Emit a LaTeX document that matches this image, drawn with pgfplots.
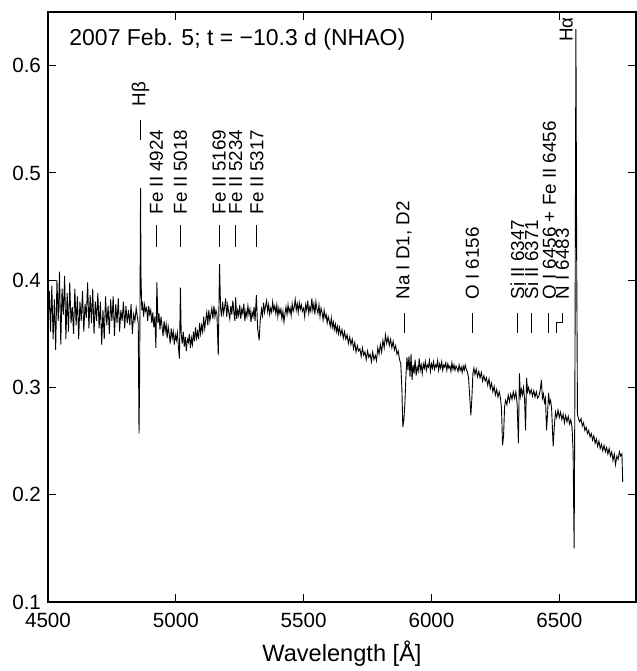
\documentclass[border=0pt]{standalone}
\usepackage{pgfplots}
\pgfplotsset{compat=1.18}
\usepackage{fontspec}
\setmainfont{Liberation Sans}
\newcommand{\lab}{\fontsize{9.4}{11}\selectfont}
\begin{document}
\begin{tikzpicture}
\useasboundingbox (-24pt,-34.5pt) rectangle (294.5pt,301pt);
\begin{axis}[
  at={(0,0)}, anchor=south west,
  scale only axis, width=294pt, height=295pt,
  xmin=4500, xmax=6800, ymin=0.1, ymax=0.65,
  xtick={4500,5000,5500,6000,6500},
  ytick={0.1,0.2,0.3,0.4,0.5,0.6},
  minor tick num=0,
  tick align=inside,
  major tick length=4pt,
  tick style={black, line width=0.5pt},
  axis line style={line width=0.6pt},
  ticklabel style={font=\fontsize{10.3}{12}\selectfont},
  /pgf/number format/assume math mode=true,
  xticklabel style={/pgf/number format/1000 sep={}, yshift=-2pt},
  yticklabel style={/pgf/number format/.cd, fixed, fixed zerofill, precision=1},
  xlabel={Wavelength [Å]},
  xlabel style={font=\fontsize{11.8}{13}\selectfont},
  clip=false,
]
\addplot[black, line width=0.45pt] table[x=w, y=f] {
w f
4500 0.360
4505 0.390
4510 0.352
4515 0.395
4520 0.345
4525 0.382
4530 0.335
4535 0.400
4540 0.362
4545 0.408
4550 0.340
4555 0.392
4560 0.368
4565 0.404
4570 0.345
4575 0.388
4580 0.352
4585 0.398
4590 0.360
4595 0.375
4600 0.350
4605 0.392
4610 0.358
4615 0.385
4620 0.345
4625 0.380
4630 0.362
4635 0.390
4640 0.352
4645 0.378
4650 0.365
4655 0.398
4660 0.355
4665 0.386
4670 0.360
4675 0.392
4680 0.350
4685 0.380
4690 0.362
4695 0.388
4700 0.355
4705 0.380
4710 0.340
4715 0.372
4720 0.345
4725 0.385
4730 0.358
4735 0.376
4740 0.350
4745 0.382
4750 0.362
4755 0.385
4760 0.348
4765 0.378
4770 0.360
4775 0.383
4780 0.352
4785 0.372
4790 0.362
4795 0.380
4800 0.355
4805 0.376
4810 0.360
4815 0.372
4820 0.358
4825 0.378
4830 0.350
4835 0.368
4840 0.362
4845 0.374
4850 0.365
4853 0.360
4856 0.257
4858 0.300
4860 0.380
4862 0.486
4864 0.400
4867 0.372
4870 0.380
4874 0.366
4878 0.377
4882 0.371
4886 0.374
4890 0.362
4894 0.376
4898 0.368
4902 0.372
4906 0.360
4910 0.370
4914 0.356
4918 0.366
4922 0.337
4926 0.398
4930 0.360
4934 0.369
4938 0.354
4942 0.366
4946 0.357
4950 0.348
4954 0.362
4958 0.352
4962 0.359
4966 0.346
4970 0.357
4974 0.350
4978 0.341
4982 0.355
4986 0.346
4990 0.352
4994 0.340
4998 0.349
5002 0.344
5006 0.351
5010 0.338
5014 0.327
5018 0.393
5021 0.350
5025 0.341
5029 0.352
5033 0.338
5037 0.347
5041 0.334
5045 0.345
5049 0.342
5053 0.350
5057 0.337
5061 0.346
5065 0.340
5069 0.352
5073 0.343
5077 0.356
5081 0.346
5085 0.352
5089 0.345
5093 0.360
5097 0.350
5101 0.358
5105 0.352
5109 0.366
5113 0.355
5117 0.363
5121 0.370
5125 0.358
5129 0.372
5133 0.362
5137 0.368
5141 0.374
5145 0.364
5149 0.376
5153 0.366
5157 0.372
5161 0.368
5166 0.330
5171 0.415
5175 0.374
5179 0.366
5183 0.380
5187 0.369
5191 0.375
5195 0.383
5199 0.366
5203 0.377
5207 0.370
5211 0.364
5215 0.376
5219 0.368
5223 0.381
5227 0.370
5231 0.362
5234 0.384
5238 0.364
5242 0.372
5246 0.367
5250 0.377
5254 0.364
5258 0.373
5262 0.369
5266 0.378
5270 0.362
5274 0.371
5278 0.366
5282 0.376
5286 0.368
5290 0.373
5294 0.361
5298 0.370
5302 0.366
5306 0.375
5310 0.362
5315 0.386
5320 0.355
5326 0.344
5330 0.362
5335 0.373
5339 0.367
5343 0.379
5347 0.370
5351 0.376
5355 0.381
5359 0.371
5363 0.377
5367 0.368
5371 0.374
5375 0.370
5379 0.380
5383 0.372
5387 0.376
5391 0.369
5395 0.377
5399 0.366
5403 0.374
5407 0.369
5411 0.373
5415 0.364
5419 0.371
5423 0.361
5427 0.369
5431 0.375
5435 0.368
5439 0.377
5443 0.370
5447 0.374
5451 0.367
5455 0.378
5459 0.371
5463 0.375
5467 0.382
5471 0.372
5475 0.378
5479 0.370
5483 0.379
5487 0.373
5491 0.377
5495 0.371
5500 0.374
5504 0.366
5508 0.377
5512 0.372
5516 0.381
5520 0.369
5524 0.375
5528 0.371
5532 0.383
5536 0.372
5540 0.378
5544 0.368
5548 0.380
5552 0.373
5556 0.369
5560 0.377
5564 0.366
5568 0.374
5572 0.370
5576 0.363
5580 0.372
5584 0.365
5588 0.368
5592 0.360
5596 0.366
5600 0.362
5604 0.357
5608 0.365
5612 0.356
5616 0.361
5620 0.354
5624 0.359
5628 0.352
5632 0.357
5636 0.350
5640 0.356
5645 0.349
5650 0.354
5655 0.346
5660 0.352
5665 0.345
5670 0.349
5675 0.341
5680 0.347
5685 0.340
5690 0.345
5695 0.336
5700 0.342
5705 0.333
5710 0.339
5715 0.334
5720 0.336
5725 0.329
5730 0.337
5735 0.330
5740 0.333
5745 0.326
5750 0.334
5755 0.328
5760 0.331
5765 0.324
5770 0.333
5775 0.326
5780 0.330
5785 0.325
5790 0.337
5795 0.331
5800 0.340
5805 0.333
5810 0.344
5815 0.337
5820 0.349
5825 0.341
5830 0.347
5835 0.339
5840 0.345
5845 0.337
5850 0.343
5855 0.335
5860 0.339
5865 0.331
5870 0.334
5875 0.326
5880 0.322
5884 0.300
5888 0.263
5892 0.270
5896 0.285
5900 0.310
5904 0.328
5908 0.316
5912 0.329
5916 0.310
5920 0.331
5924 0.307
5928 0.321
5932 0.313
5936 0.326
5940 0.311
5944 0.319
5948 0.315
5952 0.327
5956 0.316
5960 0.321
5964 0.313
5968 0.322
5972 0.318
5976 0.324
5980 0.316
5984 0.321
5988 0.319
5992 0.325
5996 0.315
6000 0.322
6004 0.318
6008 0.324
6012 0.317
6016 0.321
6020 0.319
6024 0.325
6028 0.316
6032 0.322
6036 0.318
6040 0.324
6044 0.316
6048 0.321
6052 0.319
6056 0.323
6060 0.316
6064 0.322
6068 0.318
6072 0.320
6076 0.315
6080 0.323
6084 0.317
6088 0.321
6092 0.316
6096 0.320
6100 0.318
6104 0.315
6108 0.321
6112 0.316
6116 0.319
6120 0.314
6124 0.320
6128 0.316
6132 0.321
6136 0.317
6140 0.315
6145 0.309
6150 0.290
6154 0.274
6158 0.290
6162 0.313
6166 0.318
6170 0.312
6175 0.317
6180 0.310
6185 0.315
6190 0.309
6195 0.314
6200 0.306
6205 0.311
6210 0.306
6215 0.309
6220 0.302
6225 0.308
6230 0.299
6235 0.304
6240 0.296
6245 0.301
6250 0.293
6255 0.298
6260 0.291
6265 0.296
6270 0.290
6274 0.280
6278 0.246
6282 0.255
6286 0.282
6290 0.288
6295 0.284
6300 0.293
6305 0.287
6310 0.294
6315 0.289
6320 0.296
6325 0.290
6330 0.296
6335 0.285
6340 0.248
6344 0.313
6348 0.292
6352 0.298
6356 0.293
6360 0.300
6364 0.290
6368 0.260
6372 0.309
6376 0.296
6380 0.300
6385 0.294
6390 0.298
6395 0.292
6400 0.297
6405 0.291
6410 0.296
6415 0.290
6420 0.292
6425 0.297
6430 0.307
6434 0.290
6438 0.294
6442 0.286
6446 0.290
6450 0.260
6454 0.275
6458 0.295
6462 0.285
6466 0.288
6470 0.280
6476 0.245
6480 0.262
6485 0.277
6490 0.272
6495 0.279
6500 0.272
6505 0.277
6510 0.270
6515 0.275
6520 0.267
6525 0.274
6530 0.268
6535 0.273
6540 0.266
6545 0.270
6550 0.262
6554 0.240
6558 0.150
6561 0.300
6565 0.634
6568 0.420
6571 0.275
6576 0.270
6580 0.268
6585 0.271
6590 0.264
6595 0.267
6600 0.260
6605 0.263
6610 0.257
6615 0.260
6620 0.254
6625 0.257
6630 0.251
6635 0.255
6640 0.248
6645 0.252
6650 0.245
6655 0.250
6660 0.243
6665 0.247
6670 0.241
6675 0.246
6680 0.240
6685 0.244
6690 0.238
6695 0.243
6700 0.236
6705 0.240
6710 0.232
6715 0.238
6720 0.228
6725 0.236
6730 0.233
6735 0.240
6740 0.236
6745 0.238
6748 0.212
};
% identification ticks
\addplot[black, line width=0.5pt, forget plot] coordinates {(4862,0.531) (4862,0.5496)};
\addplot[black, line width=0.5pt, forget plot] coordinates {(4924,0.4312) (4924,0.4517)};
\addplot[black, line width=0.5pt, forget plot] coordinates {(5018,0.4312) (5018,0.4517)};
\addplot[black, line width=0.5pt, forget plot] coordinates {(5169,0.4312) (5169,0.4517)};
\addplot[black, line width=0.5pt, forget plot] coordinates {(5234,0.4312) (5234,0.4517)};
\addplot[black, line width=0.5pt, forget plot] coordinates {(5317,0.4312) (5317,0.4517)};
\addplot[black, line width=0.5pt, forget plot] coordinates {(5893,0.3509) (5893,0.3696)};
\addplot[black, line width=0.5pt, forget plot] coordinates {(6160,0.3509) (6160,0.3696)};
\addplot[black, line width=0.5pt, forget plot] coordinates {(6336,0.3509) (6336,0.3696)};
\addplot[black, line width=0.5pt, forget plot] coordinates {(6391,0.3509) (6391,0.3696)};
\addplot[black, line width=0.5pt, forget plot] coordinates {(6457,0.3509) (6457,0.3696)};
\addplot[black, line width=0.5pt, forget plot] coordinates {(6488,0.3509) (6488,0.3603) (6512,0.3603) (6512,0.3696)};
% labels
\node[rotate=90, anchor=west, inner sep=0, font=\lab] at (axis cs:4862,0.5618) {Hβ};
\node[rotate=90, anchor=west, inner sep=0, font=\lab] at (axis cs:4924,0.461) {Fe II 4924};
\node[rotate=90, anchor=west, inner sep=0, font=\lab] at (axis cs:5018,0.461) {Fe II 5018};
\node[rotate=90, anchor=west, inner sep=0, font=\lab] at (axis cs:5169,0.461) {Fe II 5169};
\node[rotate=90, anchor=west, inner sep=0, font=\lab] at (axis cs:5234,0.461) {Fe II 5234};
\node[rotate=90, anchor=west, inner sep=0, font=\lab] at (axis cs:5317,0.461) {Fe II 5317};
\node[rotate=90, anchor=west, inner sep=0, font=\lab] at (axis cs:5893,0.3817) {Na I D1, D2};
\node[rotate=90, anchor=west, inner sep=0, font=\lab] at (axis cs:6160,0.3817) {O I 6156};
\node[rotate=90, anchor=west, inner sep=0, font=\lab] at (axis cs:6336,0.3817) {Si II 6347};
\node[rotate=90, anchor=west, inner sep=0, font=\lab] at (axis cs:6391,0.3817) {Si II 6371};
\node[rotate=90, anchor=west, inner sep=0, font=\lab] at (axis cs:6461,0.3817) {O I 6456 + Fe II 6456};
\node[rotate=90, anchor=west, inner sep=0, font=\lab] at (axis cs:6512,0.3817) {N I 6483};
\node[rotate=90, anchor=west, inner sep=0, font=\lab] at (axis cs:6527,0.622) {Hα};
\node[anchor=west, inner sep=0, font=\fontsize{11.5}{13}\selectfont] at (rel axis cs:0.0357,0.9525) {2007 Feb. 5; t = −10.3 d (NHAO)};
\end{axis}
\end{tikzpicture}
\end{document}
